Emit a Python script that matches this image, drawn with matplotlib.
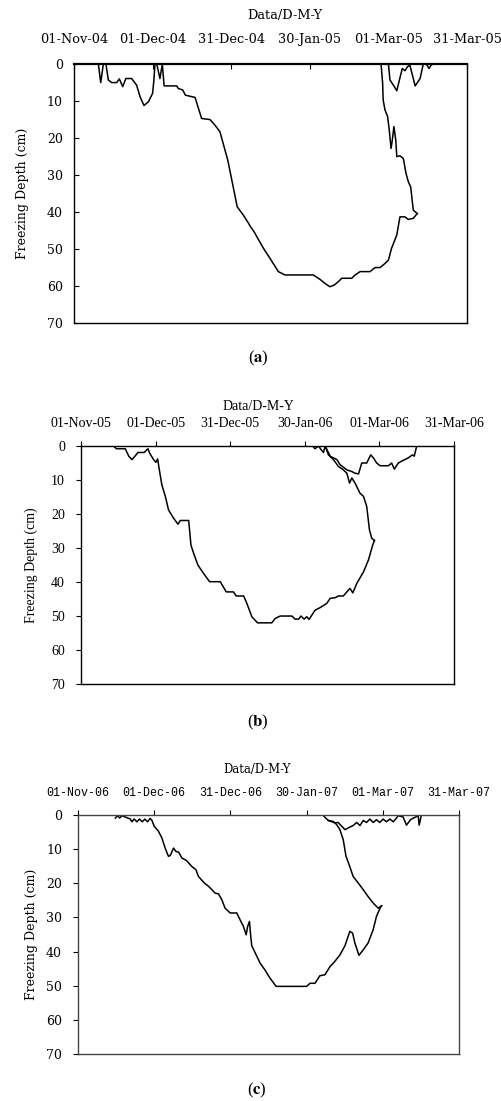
import matplotlib
matplotlib.use("Agg")
import matplotlib.pyplot as plt

plt.rcParams["mathtext.fontset"] = "stix"

# x = days since 01-Nov, y = freezing depth (cm)
tick_days = [0, 30, 60, 90, 120, 150]
labels_a = ["01-Nov-04", "01-Dec-04", "31-Dec-04", "30-Jan-05", "01-Mar-05", "31-Mar-05"]
labels_b = ["01-Nov-05", "01-Dec-05", "31-Dec-05", "30-Jan-06", "01-Mar-06", "31-Mar-06"]
labels_c = ["01-Nov-06", "01-Dec-06", "31-Dec-06", "30-Jan-07", "01-Mar-07", "31-Mar-07"]
depth_ticks = [0, 10, 20, 30, 40, 50, 60, 70]

# ---- 2004/05 ----
a_freeze_day = [9.3, 10.2, 11.2, 12.2, 13.1, 14.4, 16.3, 17.3, 18.6, 19.8, 22, 23.9, 25.2, 26.7,
                28.4, 30, 30.5, 30.9, 31.6, 32.8, 33.7, 34.4, 39.2, 39.8, 41.5, 42.5, 44.9, 46.2,
                48.7, 51.9, 53.8, 55.7, 58.7, 62.3, 64.6, 66.5, 67.4, 68.7, 72.3, 74.8, 78, 80.5,
                91.3, 93.9, 95.8, 97.7, 99.4, 100.9, 102.2, 106, 107.3, 109.2, 113, 114.9, 116.8,
                118.7, 120, 121.2, 123.2, 124.4, 126.3, 127.6, 129.5, 131]
a_freeze_cm = [0, 5, 0, 0, 4.3, 5, 5, 4, 6.1, 3.9, 3.9, 5.7, 8.8, 11.2,
               10.2, 7.9, 4.3, 0, 0, 3.9, 0, 5.9, 5.9, 6.6, 7, 8.4, 8.8, 9,
               14.7, 15, 16.5, 18.3, 26, 38.6, 40.8, 42.9, 44, 45.3, 49.8, 52.5, 56.1, 57,
               57, 58.2, 59.3, 60.2, 59.7, 58.8, 57.9, 57.9, 57, 56.1, 56.1, 55, 55,
               53.9, 53, 49.8, 46.2, 41.3, 41.3, 42, 41.7, 40.4]
a_thaw_day = [117.2, 117.8, 118, 118.7, 119.7, 120.4, 121, 121.5, 122.1, 122.8, 123.2, 124.4,
              125.7, 126.7, 127.6, 128.5, 129.5, 131]
a_thaw_cm = [0, 5.2, 9.7, 12.4, 14.2, 18.3, 22.8, 20.5, 16.9, 20.5, 25, 24.8,
             25.5, 29.5, 31.8, 33.2, 39.5, 40.4]
a_surf_day = [120, 120.6, 121.9, 123.2, 124.2, 125.3, 126.3, 127.3, 128.2, 130.2, 132.1, 133.3,
              134.5, 135.5, 136.3, 137]
a_surf_cm = [0, 4.3, 5.7, 7.2, 4.3, 1.2, 1.8, 0.7, 0.3, 5.9, 3.9, 0, 0, 1.2, 0.3, 0]

# ---- 2005/06 ----
b_freeze_day = [13.1, 14.2, 17.8, 19.2, 20.5, 21.8, 22.9, 25.4, 26.9, 27.6, 29.2, 30.1, 30.8,
                31.5, 32.5, 33.9, 35.2, 37.2, 39, 39.9, 43.3, 44.2, 45.3, 47, 49.3, 51.7, 56,
                58.4, 61.3, 62.4, 65.4, 66.7, 68.7, 71, 76.7, 78.1, 80.1, 84.8, 86.1, 87.5, 88.5,
                89.7, 90.8, 91.7, 94.1, 96.2, 98.8, 100.2, 102.2, 103.5, 105.5, 107.5, 108.2,
                109.3, 110.9, 113.6, 115.6, 117.3, 118]
b_freeze_cm = [0, 0.8, 0.8, 3, 4, 2.9, 1.9, 1.9, 0.8, 2.1, 4, 4.8, 3.8,
               7, 11.4, 14.8, 18.8, 21.2, 23, 21.9, 21.9, 29.1, 31.6, 35, 37.5, 39.9, 39.9,
               42.9, 42.9, 44.1, 44.1, 46.3, 50.2, 52, 52, 50.7, 50, 50, 50.9, 50.9, 50,
               50.9, 50.2, 51, 48.3, 47.5, 46.3, 44.8, 44.6, 44.1, 44.1, 42.4, 41.9,
               43.2, 40.4, 37, 33.5, 29.1, 27.8]
b_thaw_day = [98.2, 99.5, 101.5, 103.5, 105.5, 106.9, 108, 108.9, 110.2, 112.2, 113.6, 114.9,
              116, 116.9, 118]
b_thaw_cm = [0, 2.6, 4, 6, 7, 8, 10.9, 9.4, 10.9, 13.9, 14.8, 17.8, 24.7, 27.1, 27.8]
b_surf_day = [93.2, 94.1, 95.5, 96.6, 97.5, 98.2, 100.2, 102.9, 104.2, 106.9, 108.9, 110.2, 111.6,
              112.9, 114.9, 116.5, 117.6, 118.9, 120.3, 123.6, 124.9, 126, 127.6, 129.6, 131.6,
              133.3, 134, 135]
b_surf_cm = [0, 0.8, 0, 1.1, 1.9, 0, 3, 4, 5.5, 7, 7.5, 8, 8.2,
             5, 5, 2.6, 3.5, 5, 5.8, 5.8, 5, 6.8, 5, 4.2, 3.5,
             2.6, 3, 0]

# ---- 2006/07 ----
c_freeze_day = [14.7, 15.6, 16.4, 17.3, 18.6, 20.6, 21.2, 22.1, 23.2, 24.2, 25.3, 26.3, 27.4,
                28.4, 29.1, 30, 31.7, 33, 34.3, 35.6, 36.3, 37.6, 38.6, 39.6, 40.9, 42.8, 44.8,
                46.4, 47.4, 49.7, 51.4, 52.7, 54, 55.3, 56.6, 57.9, 59.9, 62.5, 63.8, 65.1, 66.2,
                66.8, 67.5, 68, 68.4, 69.7, 71.7, 73.6, 75.6, 78, 90, 91.3, 93.3, 95.2, 97.2,
                99.2, 101.1, 103.1, 105.1, 107, 108.1, 109, 110.6, 112.3, 114.2, 116.2, 117.5,
                119.1, 119.5]
c_freeze_cm = [0.9, 0.2, 0.9, 0.2, 0.6, 1.2, 2, 1.2, 2, 1.2, 2, 1.2, 2,
               1, 1.6, 3.3, 4.8, 6.7, 9.7, 12.1, 11.9, 9.7, 10.7, 10.9, 12.6, 13.4, 15.1,
               16, 18, 19.9, 20.9, 21.9, 22.9, 23.1, 24.8, 27.3, 28.7, 28.7, 30.7, 32.6, 35.1,
               32.6, 31.2, 35.6, 38.3, 40.3, 43.4, 45.4, 47.8, 50.2, 50.2, 49.3, 49.3, 47.1, 46.8,
               44.4, 42.9, 41, 38.3, 34.1, 34.6, 37.5, 41.1, 39.5, 37.5, 33.6, 29.7,
               27, 26.6]
c_thaw_day = [96.3, 98.5, 100.5, 101.8, 103.1, 104.4, 105.5, 107, 108.3, 110.3, 112.3, 114.2,
              116.2, 118.2, 119.5]
c_thaw_cm = [0, 1.6, 1.9, 2.8, 4.3, 7.2, 12.1, 15.1, 18, 19.9, 21.9, 23.9, 25.8, 27.3, 26.6]
c_surf_day = [98.5, 101.1, 102.4, 103.8, 105.1, 106.4, 108.3, 109.7, 111, 112.3, 113.6, 114.9,
              116.2, 117.5, 118.8, 120.1, 121.4, 122.8, 124.1, 125.4, 126, 128, 129.3, 130.9,
              132, 133, 133.9, 134.3, 135.2]
c_surf_cm = [1.6, 2.3, 2.2, 3.3, 4.3, 3.8, 3.1, 2.2, 3.1, 1.6, 2.2, 1.2,
             2.2, 1.4, 2.2, 1.2, 2, 1.2, 2, 0.9, 0.2, 0.6, 3, 1.4,
             0.9, 0.6, 0, 3, 0]

fig = plt.figure(figsize=(5.02, 11.01), dpi=100)

panels = [
    dict(rect=[0.1474, 0.7066, 0.7829, 0.2352], labels=labels_a, tag="a",
         series=[(a_freeze_day, a_freeze_cm), (a_thaw_day, a_thaw_cm), (a_surf_day, a_surf_cm)],
         font="DejaVu Serif", xfont="DejaVu Serif", xsize=9.3, ysize=9, tdir="in", xpad=13,
         title_xy=(285, 16), tag_xy=(258, 358), ylab_x=-0.115, spine="black"),
    dict(rect=[0.1614, 0.3787, 0.7430, 0.2162], labels=labels_b, tag="b",
         series=[(b_freeze_day, b_freeze_cm), (b_thaw_day, b_thaw_cm), (b_surf_day, b_surf_cm)],
         font="Liberation Serif", xfont="Liberation Serif", xsize=10, ysize=10, tdir="out", xpad=8,
         title_xy=(258, 406), tag_xy=(258, 722), ylab_x=-0.115, spine="black"),
    dict(rect=[0.1554, 0.0427, 0.7590, 0.2171], labels=labels_c, tag="c",
         series=[(c_freeze_day, c_freeze_cm), (c_thaw_day, c_thaw_cm), (c_surf_day, c_surf_cm)],
         font="DejaVu Serif", xfont="Liberation Mono", xsize=8.4, ysize=9, tdir="out", xpad=8,
         title_xy=(257, 769), tag_xy=(257, 1090), ylab_x=-0.105, spine="#444444"),
]

W, H = 502, 1101
for p in panels:
    ax = fig.add_axes(p["rect"])
    for d, v in p["series"]:
        ax.plot(d, v, color="black", lw=1.1)
    ax.set_xlim(0, 150)
    ax.set_ylim(70, 0)
    ax.xaxis.tick_top()
    ax.set_xticks(tick_days)
    ax.set_xticklabels(p["labels"], fontfamily=p["xfont"], fontsize=p["xsize"])
    ax.set_yticks(depth_ticks)
    ax.set_yticklabels([str(t) for t in depth_ticks], fontfamily=p["font"], fontsize=p["ysize"])
    ax.tick_params(axis="x", direction=p["tdir"], length=3.5, pad=p["xpad"], width=0.8)
    ax.tick_params(axis="y", direction=p["tdir"], length=3.5, pad=8, width=0.8)
    for s in ax.spines.values():
        s.set_color(p["spine"])
        s.set_linewidth(1.0)
    if p["tag"] == "a":
        ax.spines["top"].set_linewidth(1.6)
    ax.set_ylabel("Freezing Depth (cm)", fontfamily=p["font"], fontsize=p["ysize"])
    ax.yaxis.set_label_coords(p["ylab_x"], 0.5)
    fig.text(p["title_xy"][0] / W, 1 - p["title_xy"][1] / H, "Data/D-M-Y",
             ha="center", va="center", fontfamily=p["font"], fontsize=p["xsize"])
    fig.text(p["tag_xy"][0] / W, 1 - p["tag_xy"][1] / H, "($\\mathbf{%s}$)" % p["tag"],
             ha="center", va="center", fontfamily="Liberation Serif", fontsize=12)

fig.savefig("out.png", dpi=100)
